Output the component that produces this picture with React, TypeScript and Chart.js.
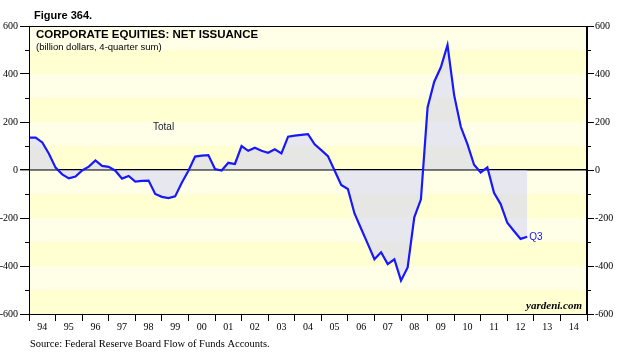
import React, { useEffect, useRef } from 'react';
import { Chart, registerables } from 'chart.js';

Chart.register(...registerables);

// Quarterly data, 1993Q4 .. 2012Q3 (billion dollars, 4-quarter sum)
const firstYear = 1993;
const firstQuarter = 4;
const netIssuance = [
  135, 135, 115, 68, 10, -18, -35, -27, -2, 14, 40, 17, 13, -3, -36, -25,
  -48, -45, -44, -100, -112, -117, -110, -53, -3, 56, 60, 62, 4, -2, 30, 25,
  100, 80, 93, 80, 72, 86, 69, 139, 143, 146, 149, 107, 83, 58, -2, -62,
  -79, -181, -245, -308, -372, -343, -392, -372, -461, -406, -197, -122, 261, 368,
  428, 521, 312, 180, 108, 22, -10, 11, -95, -142, -220, -254, -287, -278,
];
const quarterLabels: string[] = netIssuance.map((_, i) => {
  const q0 = firstQuarter - 1 + i;
  return `${firstYear + Math.floor(q0 / 4)}Q${(q0 % 4) + 1}`;
});
const yearLabels = ['94', '95', '96', '97', '98', '99', '00', '01', '02', '03', '04', '05', '06', '07', '08', '09', '10', '11', '12', '13', '14'];
const yearStart = 1994;
const yMin = -600;
const yMax = 600;
const yStep = 200;
const yMinorStep = 100;

const SERIF = '"Liberation Serif", "Times New Roman", serif';
const SANS = '"Liberation Sans", Arial, sans-serif';

function quarterToX(label: string): number {
  const [y, q] = label.split('Q').map(Number);
  return y + q / 4;
}

export default function App() {
  const ref = useRef<HTMLCanvasElement | null>(null);
  useEffect(() => {
    document.body.style.margin = '0';
    const canvas = ref.current;
    if (!canvas) return;
    const points = netIssuance.map((v, i) => ({ x: quarterToX(quarterLabels[i]), y: v }));
    const lastPoint = points[points.length - 1];

    const decor = {
      id: 'decor',
      beforeDraw(chart: any) {
        const { ctx, chartArea: a } = chart;
        const ys = chart.scales.y;
        ctx.save();
        let k = 0;
        for (let v = yMax; v > yMin; v -= yMinorStep) {
          const top = ys.getPixelForValue(v);
          const bot = ys.getPixelForValue(v - yMinorStep);
          ctx.fillStyle = k % 2 === 0 ? '#ffffe8' : '#ffffd2';
          ctx.fillRect(a.left, top, a.right - a.left, bot - top);
          k++;
        }
        ctx.restore();
      },
      afterDraw(chart: any) {
        const { ctx, chartArea: a } = chart;
        const ys = chart.scales.y;
        const xs = chart.scales.x;
        ctx.save();
        // frame
        ctx.strokeStyle = '#000';
        ctx.lineWidth = 1;
        ctx.strokeRect(a.left + 0.5, a.top + 0.5, a.right - a.left - 1, a.bottom - a.top);
        // minor ticks
        for (let v = yMin + yMinorStep; v < yMax; v += yStep) {
          const py = Math.round(ys.getPixelForValue(v)) + 0.5;
          ctx.beginPath();
          ctx.moveTo(a.left - 4, py);
          ctx.lineTo(a.left, py);
          ctx.moveTo(a.right, py);
          ctx.lineTo(a.right + 4, py);
          ctx.stroke();
        }
        // texts
        ctx.fillStyle = '#000';
        ctx.textBaseline = 'alphabetic';
        ctx.textAlign = 'left';
        ctx.font = `bold 11px ${SANS}`;
        ctx.fillText('Figure 364.', 34, 19);
        ctx.font = `bold 11.5px ${SANS}`;
        ctx.fillText('CORPORATE EQUITIES: NET ISSUANCE', 36, 38);
        ctx.font = `9.5px ${SANS}`;
        ctx.fillText('(billion dollars, 4-quarter sum)', 36, 50);
        ctx.font = `10px ${SANS}`;
        ctx.fillStyle = '#1a1a2a';
        ctx.fillText('Total', 153, 130);
        ctx.fillStyle = '#1414ff';
        ctx.textBaseline = 'middle';
        ctx.fillText('Q3', xs.getPixelForValue(lastPoint.x) + 2, ys.getPixelForValue(lastPoint.y) + 1);
        ctx.fillStyle = '#000';
        ctx.textBaseline = 'alphabetic';
        ctx.textAlign = 'right';
        ctx.font = `italic bold 11px ${SERIF}`;
        ctx.fillText('yardeni.com', a.right - 5, a.bottom - 5);
        ctx.textAlign = 'left';
        ctx.font = `10.5px ${SERIF}`;
        ctx.fillText('Source: Federal Reserve Board Flow of Funds Accounts.', 30, 347);
        ctx.restore();
      },
    };

    const chart = new Chart(canvas, {
      type: 'line',
      data: {
        datasets: [
          {
            data: points,
            borderColor: '#1818ff',
            borderWidth: 2.2,
            pointRadius: 0,
            tension: 0,
            fill: 'origin',
            backgroundColor: 'rgba(205,208,245,0.5)',
          },
        ],
      },
      options: {
        animation: false,
        responsive: false,
        maintainAspectRatio: false,
        layout: { padding: { top: 26, left: 0, right: 0, bottom: 0 } },
        plugins: { legend: { display: false }, tooltip: { enabled: false } },
        scales: {
          x: {
            type: 'linear',
            min: yearStart,
            max: yearStart + yearLabels.length,
            afterBuildTicks(axis: any) {
              const t: any[] = [];
              for (let i = 0; i <= yearLabels.length; i++) t.push({ value: yearStart + i });
              for (let i = 0; i < yearLabels.length; i++) t.push({ value: yearStart + i + 0.5 });
              t.sort((p, q) => p.value - q.value);
              axis.ticks = t;
            },
            afterFit(scale: any) {
              scale.height = 38;
            },
            ticks: {
              autoSkip: false,
              maxRotation: 0,
              padding: 0,
              color: '#000',
              font: { family: SERIF, size: 10 },
              callback(value: any) {
                const v = Number(value);
                if (Number.isInteger(v)) return '';
                return yearLabels[Math.floor(v) - yearStart] ?? '';
              },
            },
            grid: {
              drawOnChartArea: false,
              tickLength: 7,
              tickColor: (c: any) => (c.tick && Number.isInteger(c.tick.value) ? '#000' : 'rgba(0,0,0,0)'),
            },
            border: { display: true, color: '#000' },
          },
          y: {
            position: 'left',
            min: yMin,
            max: yMax,
            afterFit(scale: any) {
              scale.width = 29;
            },
            ticks: {
              stepSize: yStep,
              padding: 2,
              color: '#000',
              font: { family: SERIF, size: 10 },
            },
            grid: {
              drawOnChartArea: true,
              color: (c: any) => (c.tick && c.tick.value === 0 ? '#000' : 'rgba(0,0,0,0)'),
              lineWidth: (c: any) => (c.tick && c.tick.value === 0 ? 1.4 : 1),
              tickColor: '#000',
              tickLength: 9,
            },
            border: { display: true, color: '#000' },
          },
          y2: {
            position: 'right',
            min: yMin,
            max: yMax,
            afterFit(scale: any) {
              scale.width = 34;
            },
            ticks: {
              stepSize: yStep,
              padding: 1,
              color: '#000',
              font: { family: SERIF, size: 10 },
            },
            grid: {
              drawOnChartArea: false,
              tickColor: '#000',
              tickLength: 7,
            },
            border: { display: true, color: '#000' },
          },
        },
      },
      plugins: [decor],
    } as any);
    return () => chart.destroy();
  }, []);
  return (
    <canvas ref={ref} width={621} height={352} style={{ display: 'block', width: 621, height: 352 }} />
  );
}
